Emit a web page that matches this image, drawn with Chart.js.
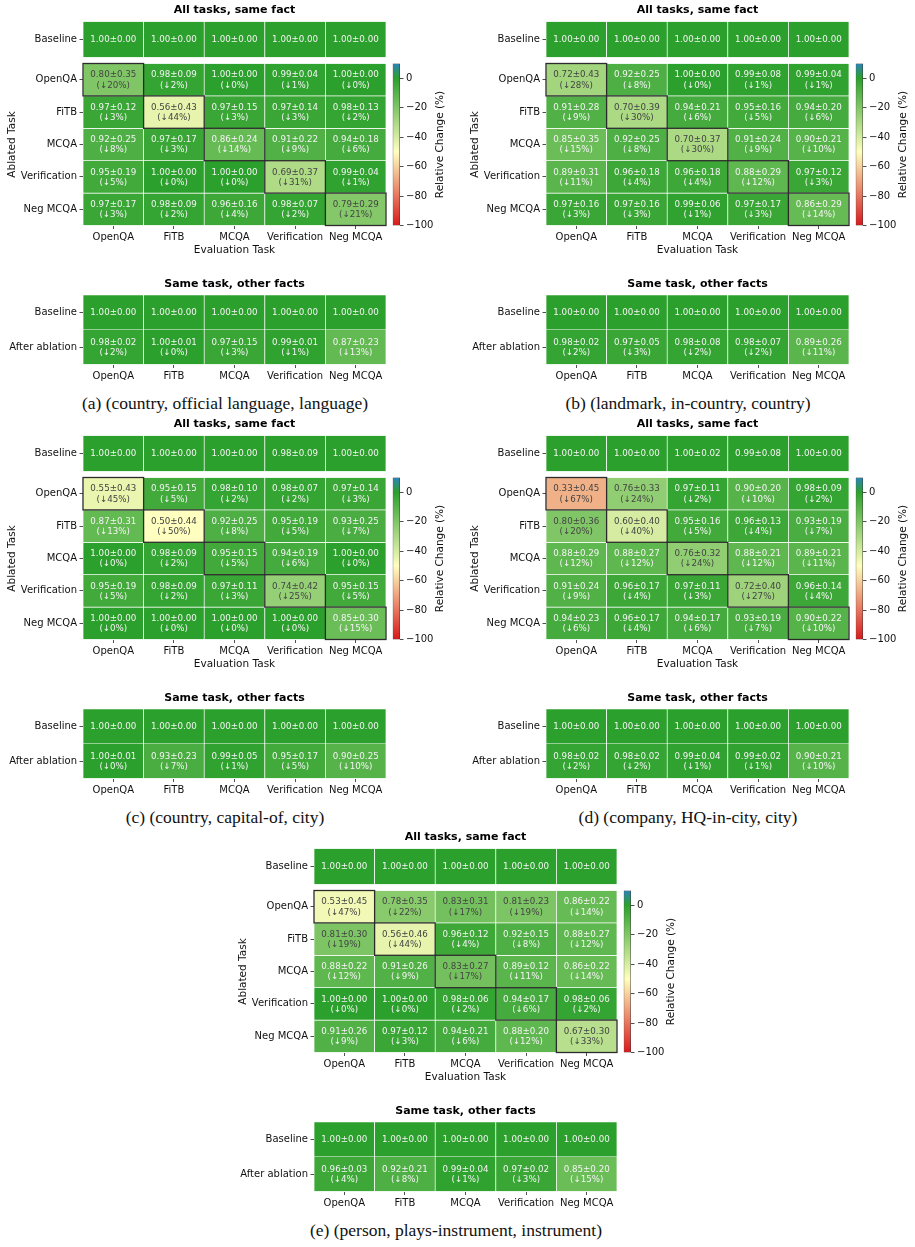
<!DOCTYPE html>
<html>
<head>
<meta charset="utf-8">
<script src="https://cdn.jsdelivr.net/npm/chart.js@4.4.1/dist/chart.umd.min.js"></script>
<style>
  html, body { margin: 0; padding: 0; background: #fff; }
  #page { position: relative; width: 915px; height: 1247px; overflow: hidden; }
  .box { position: absolute; }
  .caption { position: absolute; width: 440px; text-align: center; font-family: 'Liberation Serif', 'Times New Roman', serif; font-size: 17.5px; line-height: 20px; color: #111; white-space: nowrap; }
</style>
</head>
<body>
<div id="page"></div>
<script>
const EVAL_TASKS = ['OpenQA', 'FiTB', 'MCQA', 'Verification', 'Neg MCQA'];
const ABLATED_TASKS = ['OpenQA', 'FiTB', 'MCQA', 'Verification', 'Neg MCQA'];
const OTHER_ROWS = ['Baseline', 'After ablation'];
const CBAR_TICKS = [-100, -80, -60, -40, -20, 0];
const CBAR_MIN = -100, CBAR_MAX = 10;

const OTHER_BASE = [1.00, 1.00, 1.00, 1.00, 1.00];
const OTHER_BASE_SD = [0.00, 0.00, 0.00, 0.00, 0.00];

// (a) country, official language, language
const A_BASE = [1.00, 1.00, 1.00, 1.00, 1.00];
const A_BASE_SD = [0.00, 0.00, 0.00, 0.00, 0.00];
const A_MEAN = [
  [0.80, 0.98, 1.00, 0.99, 1.00],
  [0.97, 0.56, 0.97, 0.97, 0.98],
  [0.92, 0.97, 0.86, 0.91, 0.94],
  [0.95, 1.00, 1.00, 0.69, 0.99],
  [0.97, 0.98, 0.96, 0.98, 0.79]
];
const A_SD = [
  [0.35, 0.09, 0.00, 0.04, 0.00],
  [0.12, 0.43, 0.15, 0.14, 0.13],
  [0.25, 0.17, 0.24, 0.22, 0.18],
  [0.19, 0.00, 0.00, 0.37, 0.04],
  [0.17, 0.09, 0.16, 0.07, 0.29]
];
const A_DROP = [
  [20, 2, 0, 1, 0],
  [3, 44, 3, 3, 2],
  [8, 3, 14, 9, 6],
  [5, 0, 0, 31, 1],
  [3, 2, 4, 2, 21]
];
const A_OTHER = [0.98, 1.00, 0.97, 0.99, 0.87];
const A_OTHER_SD = [0.02, 0.01, 0.15, 0.01, 0.23];
const A_OTHER_DROP = [2, 0, 3, 1, 13];

// (b) landmark, in-country, country
const B_BASE = [1.00, 1.00, 1.00, 1.00, 1.00];
const B_BASE_SD = [0.00, 0.00, 0.00, 0.00, 0.00];
const B_MEAN = [
  [0.72, 0.92, 1.00, 0.99, 0.99],
  [0.91, 0.70, 0.94, 0.95, 0.94],
  [0.85, 0.92, 0.70, 0.91, 0.90],
  [0.89, 0.96, 0.96, 0.88, 0.97],
  [0.97, 0.97, 0.99, 0.97, 0.86]
];
const B_SD = [
  [0.43, 0.25, 0.00, 0.08, 0.04],
  [0.28, 0.39, 0.21, 0.16, 0.20],
  [0.35, 0.25, 0.37, 0.24, 0.21],
  [0.31, 0.18, 0.18, 0.29, 0.12],
  [0.16, 0.16, 0.06, 0.17, 0.29]
];
const B_DROP = [
  [28, 8, 0, 1, 1],
  [9, 30, 6, 5, 6],
  [15, 8, 30, 9, 10],
  [11, 4, 4, 12, 3],
  [3, 3, 1, 3, 14]
];
const B_OTHER = [0.98, 0.97, 0.98, 0.98, 0.89];
const B_OTHER_SD = [0.02, 0.05, 0.08, 0.07, 0.26];
const B_OTHER_DROP = [2, 3, 2, 2, 11];

// (c) country, capital-of, city
const C_BASE = [1.00, 1.00, 1.00, 0.98, 1.00];
const C_BASE_SD = [0.00, 0.00, 0.00, 0.09, 0.00];
const C_MEAN = [
  [0.55, 0.95, 0.98, 0.98, 0.97],
  [0.87, 0.50, 0.92, 0.95, 0.93],
  [1.00, 0.98, 0.95, 0.94, 1.00],
  [0.95, 0.98, 0.97, 0.74, 0.95],
  [1.00, 1.00, 1.00, 1.00, 0.85]
];
const C_SD = [
  [0.43, 0.15, 0.10, 0.07, 0.14],
  [0.31, 0.44, 0.25, 0.19, 0.25],
  [0.00, 0.09, 0.15, 0.19, 0.00],
  [0.19, 0.09, 0.11, 0.42, 0.15],
  [0.00, 0.00, 0.00, 0.00, 0.30]
];
const C_DROP = [
  [45, 5, 2, 2, 3],
  [13, 50, 8, 5, 7],
  [0, 2, 5, 6, 0],
  [5, 2, 3, 25, 5],
  [0, 0, 0, 0, 15]
];
const C_OTHER = [1.00, 0.93, 0.99, 0.95, 0.90];
const C_OTHER_SD = [0.01, 0.23, 0.05, 0.17, 0.25];
const C_OTHER_DROP = [0, 7, 1, 5, 10];

// (d) company, HQ-in-city, city
const D_BASE = [1.00, 1.00, 1.00, 0.99, 1.00];
const D_BASE_SD = [0.00, 0.00, 0.02, 0.08, 0.00];
const D_MEAN = [
  [0.33, 0.76, 0.97, 0.90, 0.98],
  [0.80, 0.60, 0.95, 0.96, 0.93],
  [0.88, 0.88, 0.76, 0.88, 0.89],
  [0.91, 0.96, 0.97, 0.72, 0.96],
  [0.94, 0.96, 0.94, 0.93, 0.90]
];
const D_SD = [
  [0.45, 0.33, 0.11, 0.20, 0.09],
  [0.36, 0.40, 0.16, 0.13, 0.19],
  [0.29, 0.27, 0.32, 0.21, 0.21],
  [0.24, 0.17, 0.11, 0.40, 0.14],
  [0.23, 0.17, 0.17, 0.19, 0.22]
];
const D_DROP = [
  [67, 24, 2, 10, 2],
  [20, 40, 5, 4, 7],
  [12, 12, 24, 12, 11],
  [9, 4, 3, 27, 4],
  [6, 4, 6, 7, 10]
];
const D_OTHER = [0.98, 0.98, 0.99, 0.99, 0.90];
const D_OTHER_SD = [0.02, 0.02, 0.04, 0.02, 0.21];
const D_OTHER_DROP = [2, 2, 1, 1, 10];

// (e) person, plays-instrument, instrument
const E_BASE = [1.00, 1.00, 1.00, 1.00, 1.00];
const E_BASE_SD = [0.00, 0.00, 0.00, 0.00, 0.00];
const E_MEAN = [
  [0.53, 0.78, 0.83, 0.81, 0.86],
  [0.81, 0.56, 0.96, 0.92, 0.88],
  [0.88, 0.91, 0.83, 0.89, 0.86],
  [1.00, 1.00, 0.98, 0.94, 0.98],
  [0.91, 0.97, 0.94, 0.88, 0.67]
];
const E_SD = [
  [0.45, 0.35, 0.31, 0.23, 0.22],
  [0.30, 0.46, 0.12, 0.15, 0.27],
  [0.22, 0.26, 0.27, 0.12, 0.22],
  [0.00, 0.00, 0.06, 0.17, 0.06],
  [0.26, 0.12, 0.21, 0.20, 0.30]
];
const E_DROP = [
  [47, 22, 17, 19, 14],
  [19, 44, 4, 8, 12],
  [12, 9, 17, 11, 14],
  [0, 0, 2, 6, 2],
  [9, 3, 6, 12, 33]
];
const E_OTHER = [0.96, 0.92, 0.99, 0.97, 0.85];
const E_OTHER_SD = [0.03, 0.21, 0.04, 0.02, 0.20];
const E_OTHER_DROP = [4, 8, 1, 3, 15];

const PANELS = [
  { x: 0,   y: 0,   caption: '(a) (country, official language, language)', base: A_BASE, baseSd: A_BASE_SD, mean: A_MEAN, sd: A_SD, drop: A_DROP, other: A_OTHER, otherSd: A_OTHER_SD, otherDrop: A_OTHER_DROP },
  { x: 463, y: 0,   caption: '(b) (landmark, in-country, country)', base: B_BASE, baseSd: B_BASE_SD, mean: B_MEAN, sd: B_SD, drop: B_DROP, other: B_OTHER, otherSd: B_OTHER_SD, otherDrop: B_OTHER_DROP },
  { x: 0,   y: 414, caption: '(c) (country, capital-of, city)', base: C_BASE, baseSd: C_BASE_SD, mean: C_MEAN, sd: C_SD, drop: C_DROP, other: C_OTHER, otherSd: C_OTHER_SD, otherDrop: C_OTHER_DROP },
  { x: 463, y: 414, caption: '(d) (company, HQ-in-city, city)', base: D_BASE, baseSd: D_BASE_SD, mean: D_MEAN, sd: D_SD, drop: D_DROP, other: D_OTHER, otherSd: D_OTHER_SD, otherDrop: D_OTHER_DROP },
  { x: 231, y: 827, caption: '(e) (person, plays-instrument, instrument)', base: E_BASE, baseSd: E_BASE_SD, mean: E_MEAN, sd: E_SD, drop: E_DROP, other: E_OTHER, otherSd: E_OTHER_SD, otherDrop: E_OTHER_DROP }
];

// red -> yellow -> green -> blue, like the figure's colormap
const CMAP = [
  { v: -100, c: [215, 25, 28] },
  { v: -50,  c: [255, 255, 191] },
  { v: 0,    c: [44, 160, 44] },
  { v: 10,   c: [43, 131, 186] }
];

Chart.defaults.font.family = "'DejaVu Sans', sans-serif";
Chart.defaults.color = '#111';

function colorAt(v) {
  v = Math.max(CBAR_MIN, Math.min(CBAR_MAX, v));
  for (let k = 0; k < CMAP.length - 1; k++) {
    const a = CMAP[k], b = CMAP[k + 1];
    if (v <= b.v) {
      const t = (v - a.v) / (b.v - a.v);
      return a.c.map((x, i) => Math.round(x + (b.c[i] - x) * t));
    }
  }
  return CMAP[CMAP.length - 1].c;
}
const rgb = c => `rgb(${c[0]},${c[1]},${c[2]})`;

function textColorFor(c) {
  const f = v => { v /= 255; return v <= 0.03928 ? v / 12.92 : Math.pow((v + 0.055) / 1.055, 2.4); };
  const lum = 0.2126 * f(c[0]) + 0.7152 * f(c[1]) + 0.0722 * f(c[2]);
  return lum > 0.408 ? '#444444' : '#f4f4f4';
}

const page = document.getElementById('page');

function makeCanvas(left, top, w, h) {
  const div = document.createElement('div');
  div.className = 'box';
  div.style.left = left + 'px';
  div.style.top = top + 'px';
  div.style.width = w + 'px';
  div.style.height = h + 'px';
  const cv = document.createElement('canvas');
  cv.width = w; cv.height = h;
  cv.style.width = w + 'px'; cv.style.height = h + 'px';
  div.appendChild(cv);
  page.appendChild(div);
  return cv;
}

// writes "mean±sd" and "(↓x%)" into each cell, optional box on the diagonal
function cellLabels(means, sds, drops, diagonal) {
  return {
    id: 'cellLabels',
    afterDatasetsDraw(chart) {
      const ctx = chart.ctx;
      ctx.save();
      ctx.font = "8.7px 'DejaVu Sans'";
      ctx.textAlign = 'center';
      ctx.textBaseline = 'middle';
      means.forEach((row, i) => {
        const meta = chart.getDatasetMeta(i);
        row.forEach((m, j) => {
          const el = meta.data[j];
          const cy = (el.y + el.base) / 2;
          const d = drops[i] ? drops[i][j] : null;
          ctx.fillStyle = textColorFor(colorAt(d == null ? 0 : -d));
          const txt = m.toFixed(2) + '±' + sds[i][j].toFixed(2);
          if (d == null) {
            ctx.fillText(txt, el.x, cy + 0.5);
          } else {
            ctx.fillText(txt, el.x, cy - 4.6);
            ctx.fillText('(↓' + d + '%)', el.x, cy + 5.6);
          }
        });
      });
      if (diagonal) {
        ctx.strokeStyle = '#2b2b2b';
        ctx.lineWidth = 1.3;
        means.forEach((row, i) => {
          const el = chart.getDatasetMeta(i).data[i];
          const top = Math.min(el.y, el.base), bottom = Math.max(el.y, el.base);
          ctx.strokeRect(el.x - el.width / 2, top, el.width, bottom - top);
        });
      }
      ctx.restore();
    }
  };
}

function heatmap(cv, cfg) {
  const rows = cfg.rows;
  const datasets = rows.map((r, i) => ({
    label: r,
    data: EVAL_TASKS.map(() => 1),
    backgroundColor: cfg.means[i].map((m, j) => {
      const d = cfg.drops[i] ? cfg.drops[i][j] : null;
      return rgb(colorAt(d == null ? 0 : -d));
    }),
    borderColor: '#ffffff',
    borderWidth: 0.7,
    borderSkipped: false,
    barPercentage: 1,
    categoryPercentage: 1
  }));
  return new Chart(cv, {
    type: 'bar',
    data: { labels: EVAL_TASKS, datasets },
    options: {
      responsive: false,
      animation: false,
      devicePixelRatio: 1,
      layout: { padding: cfg.padding },
      plugins: {
        legend: { display: false },
        tooltip: { enabled: false },
        title: cfg.title ? {
          display: true,
          text: cfg.title,
          fullSize: false,
          color: '#000',
          font: { size: 11, weight: 'bold', lineHeight: 1.2 },
          padding: cfg.titlePad
        } : { display: false }
      },
      scales: {
        x: {
          display: cfg.showX,
          stacked: true,
          grid: { offset: false, drawOnChartArea: false, drawTicks: true, tickLength: 3.5, tickColor: '#222', tickWidth: 0.8 },
          border: { display: false },
          ticks: { maxRotation: 0, minRotation: 0, autoSkip: false, padding: 2, color: '#111', font: { size: 10 } },
          title: cfg.xTitle ? { display: true, text: cfg.xTitle, color: '#111', font: { size: 10.5, lineHeight: 1.2 }, padding: { top: 0, bottom: 5.7 } } : { display: false },
          afterFit: s => { s.height = cfg.xHeight; }
        },
        y: {
          stacked: true,
          min: 0,
          max: rows.length,
          reverse: true,
          afterBuildTicks: s => { s.ticks = rows.map((_, i) => ({ value: i + 0.5 })); },
          ticks: { autoSkip: false, padding: 2.5, color: '#111', font: { size: 10 }, callback: (v, i) => rows[i] },
          grid: { drawOnChartArea: false, drawTicks: true, tickLength: 3.5, tickColor: '#222', tickWidth: 0.8 },
          border: { display: false },
          title: cfg.yTitle ? { display: true, text: cfg.yTitle, color: '#111', font: { size: 10.5, lineHeight: 1.2 }, padding: { top: 5.6, bottom: 0 } } : { display: false },
          afterFit: s => { s.width = 83; }
        }
      }
    },
    plugins: [cellLabels(cfg.means, cfg.sds, cfg.drops, cfg.diagonal)]
  });
}

const cbarLabel = {
  id: 'cbarLabel',
  afterDraw(chart) {
    const ctx = chart.ctx;
    const a = chart.chartArea;
    ctx.save();
    ctx.font = "10.5px 'DejaVu Sans'";
    ctx.fillStyle = '#111';
    ctx.textAlign = 'center';
    ctx.textBaseline = 'middle';
    ctx.translate(chart.scales.y.right - 20, (a.top + a.bottom) / 2);
    ctx.rotate(-Math.PI / 2);
    ctx.fillText('Relative Change (%)', 0, 0);
    ctx.restore();
  }
};

function colorbar(cv) {
  return new Chart(cv, {
    type: 'bar',
    data: {
      labels: ['change'],
      datasets: [{
        data: [[CBAR_MIN, CBAR_MAX]],
        backgroundColor: ctx => {
          const chart = ctx.chart;
          const y = chart.scales.y;
          if (!chart.chartArea || !y) return rgb(colorAt(0));
          const g = chart.ctx.createLinearGradient(0, y.getPixelForValue(CBAR_MIN), 0, y.getPixelForValue(CBAR_MAX));
          CMAP.forEach(s => g.addColorStop((s.v - CBAR_MIN) / (CBAR_MAX - CBAR_MIN), rgb(s.c)));
          return g;
        },
        borderColor: '#333',
        borderWidth: 0.8,
        borderSkipped: false,
        barPercentage: 1,
        categoryPercentage: 1
      }]
    },
    options: {
      responsive: false,
      animation: false,
      devicePixelRatio: 1,
      layout: { padding: { top: 8, left: 4.7, right: 0, bottom: 8.5 } },
      plugins: { legend: { display: false }, tooltip: { enabled: false } },
      scales: {
        x: { display: false },
        y: {
          position: 'right',
          min: CBAR_MIN,
          max: CBAR_MAX,
          afterBuildTicks: s => { s.ticks = CBAR_TICKS.map(v => ({ value: v })); },
          ticks: { padding: 2.5, color: '#111', font: { size: 10 }, callback: v => (v < 0 ? '\u2212' + Math.abs(v) : String(v)) },
          grid: { drawOnChartArea: false, drawTicks: true, tickLength: 3.5, tickColor: '#222', tickWidth: 0.8 },
          border: { display: false },
          afterFit: s => { s.width = 60; }
        }
      }
    },
    plugins: [cbarLabel]
  });
}

PANELS.forEach(p => {
  // baseline row on top
  heatmap(makeCanvas(p.x, p.y, 390, 66), {
    rows: ['Baseline'],
    means: [p.base], sds: [p.baseSd], drops: [null],
    title: 'All tasks, same fact',
    titlePad: { top: 3.4, bottom: 4.9 },
    padding: { top: 0, left: 0, right: 4, bottom: 8.5 },
    showX: false, xHeight: 0, diagonal: false
  });
  // ablation matrix
  heatmap(makeCanvas(p.x, p.y + 55, 390, 207), {
    rows: ABLATED_TASKS,
    means: p.mean, sds: p.sd, drops: p.drop,
    padding: { top: 8, left: 0, right: 4, bottom: 0 },
    showX: true, xHeight: 36.5, xTitle: 'Evaluation Task', yTitle: 'Ablated Task',
    diagonal: true
  });
  colorbar(makeCanvas(p.x + 388, p.y + 55, 72, 179));
  // same task, other facts
  heatmap(makeCanvas(p.x, p.y + 270, 390, 111), {
    rows: OTHER_ROWS,
    means: [OTHER_BASE, p.other], sds: [OTHER_BASE_SD, p.otherSd], drops: [null, p.otherDrop],
    title: 'Same task, other facts',
    titlePad: { top: 7.4, bottom: 4.4 },
    padding: { top: 0, left: 0, right: 4, bottom: 0 },
    showX: true, xHeight: 16.5, diagonal: false
  });
  const cap = document.createElement('div');
  cap.className = 'caption';
  cap.style.left = (p.x + 225 - 220) + 'px';
  cap.style.top = (p.y + 393) + 'px';
  cap.textContent = p.caption;
  page.appendChild(cap);
});
</script>
</body>
</html>
